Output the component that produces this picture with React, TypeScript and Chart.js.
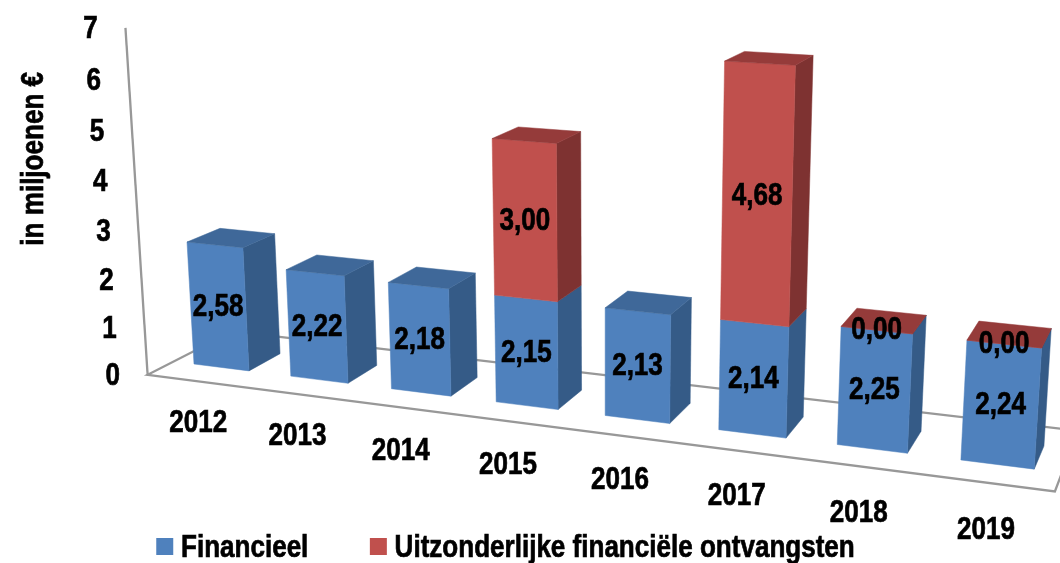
import React, { useEffect, useRef } from "react";
import { Chart, registerables } from "chart.js";

Chart.register(...registerables);

const years = ["2012", "2013", "2014", "2015", "2016", "2017", "2018", "2019"];
const financieel = [2.58, 2.22, 2.18, 2.15, 2.13, 2.14, 2.25, 2.24];
const uitzonderlijk = [null, null, null, 3.0, null, 4.68, 0.0, 0.0];
const yTicks = { min: 0, max: 7, step: 1 };

const BLUE = { front: "#4F81BD", top: "#3F6899", side: "#355B87" };
const RED = { front: "#C0504D", top: "#953B3A", side: "#7E3231" };
const AXIS = "#989898";
const FAMILY = '"Liberation Sans", Arial, sans-serif';
const FONT_SIZE = 31;
const FONT = `bold ${FONT_SIZE}px ${FAMILY}`;
const CONDENSE = 0.84;
const TEXT_DROP = 2;
const BAR_SHARE = 0.573;

// perspective camera: category position i, value v, depth z -> picture
function project(i: number, v: number, z: number): [number, number] {
  const k = Math.min(1, Math.max(0, -z / 0.76));
  const base = 1 - 0.019 * i + 0.0293 * z;
  const wx = base - 0.00647 * v;
  const wy = base + (-0.009 + 0.00253 * k) * v;
  const ex = -49.46 + 0.61 * k;
  const px = (194 + 91.3 * i - 3.92 * v + 38.9 * z) / wx;
  const py = (364 + 4.97 * i + ex * v - 6.65 * z) / wy;
  return [px, py];
}

function poly(ctx: CanvasRenderingContext2D, pts: [number, number][], fill: string) {
  ctx.beginPath();
  pts.forEach((p, n) => (n ? ctx.lineTo(p[0], p[1]) : ctx.moveTo(p[0], p[1])));
  ctx.closePath();
  ctx.fillStyle = fill;
  ctx.fill();
  ctx.strokeStyle = fill;
  ctx.lineWidth = 0.5;
  ctx.stroke();
}

const scene = {
  id: "scene3d",
  beforeInit(chart: any) {
    // every text of the chart is set in a condensed, heavier cut of the bold face
    const ctx = chart.ctx;
    const orig = ctx.fillText.bind(ctx);
    const origStroke = ctx.strokeText.bind(ctx);
    ctx.fillText = (t: string, x: number, y: number) => {
      ctx.save();
      ctx.translate(x, y + TEXT_DROP);
      ctx.scale(CONDENSE, 1);
      orig(t, 0, 0);
      ctx.strokeStyle = ctx.fillStyle;
      ctx.lineWidth = 0.7;
      origStroke(t, 0, 0);
      ctx.restore();
    };
  },
  afterLayout(chart: any) {
    const lg = chart.legend;
    lg.left = 119;
    lg.top = 486;
  },
  beforeDatasetsDraw(chart: any) {
    const { ctx, scales } = chart;
    const xs = scales.x;
    const ys = scales.y;
    const step = xs.getPixelForValue(1) - xs.getPixelForValue(0);
    const toI = (px: number) => (px - xs.getPixelForValue(0)) / step + BAR_SHARE / 2;
    const iL = toI(xs.left);
    const iR = toI(xs.right);
    const zF = -0.76;
    const zB = 1.85;

    // floor and axis line
    ctx.save();
    const a = project(iL, 0, zF);
    const b = project(iR, 0, zF);
    const c = project(iR, 0, zB);
    const d = project(iL, 0, zB);
    ctx.strokeStyle = AXIS;
    ctx.lineWidth = 2.3;
    ctx.beginPath();
    ctx.moveTo(d[0], d[1]);
    ctx.lineTo(a[0], a[1]);
    ctx.lineTo(b[0], b[1]);
    ctx.lineTo(c[0], c[1]);
    ctx.lineTo(d[0], d[1]);
    ctx.stroke();
    const top = project(iL, ys.max, zF);
    ctx.beginPath();
    ctx.moveTo(a[0], a[1]);
    ctx.lineTo(top[0], top[1]);
    ctx.stroke();

    // bars
    chart.data.labels.forEach((_: string, idx: number) => {
      let lastTop: { pts: [number, number][]; color: string } | null = null;
      chart.data.datasets.forEach((ds: any, dsi: number) => {
        if (ds.data[idx] == null) return;
        const el = chart.getDatasetMeta(dsi).data[idx];
        const i0 = toI(el.x - el.width / 2);
        const i1 = toI(el.x + el.width / 2);
        const v0 = ys.getValueForPixel(el.base);
        const v1 = ys.getValueForPixel(el.y);
        const pal = dsi === 0 ? BLUE : RED;
        poly(ctx, [project(i1, v0, 0), project(i1, v0, 1), project(i1, v1, 1), project(i1, v1, 0)], pal.side);
        poly(ctx, [project(i0, v0, 0), project(i1, v0, 0), project(i1, v1, 0), project(i0, v1, 0)], pal.front);
        lastTop = {
          pts: [project(i0, v1, 0), project(i1, v1, 0), project(i1, v1, 1), project(i0, v1, 1)],
          color: pal.top,
        };
      });
      if (lastTop) poly(ctx, (lastTop as any).pts, (lastTop as any).color);
    });

    // value labels
    ctx.font = FONT;
    ctx.fillStyle = "#000000";
    ctx.textAlign = "center";
    ctx.textBaseline = "middle";
    chart.data.datasets.forEach((ds: any, dsi: number) => {
      ds.data.forEach((val: number | null, idx: number) => {
        if (val == null) return;
        const el = chart.getDatasetMeta(dsi).data[idx];
        const v0 = ys.getValueForPixel(el.base);
        const v1 = ys.getValueForPixel(el.y);
        const p = project(toI(el.x), (v0 + v1) / 2, 0);
        ctx.fillText(val.toFixed(2).replace(".", ","), p[0], p[1] - 1.5);
      });
    });

    // category labels
    xs.getLabels().forEach((lab: string, idx: number) => {
      const p = project(toI(xs.getPixelForValue(idx)), -0.85, zF);
      ctx.fillText(lab, p[0], p[1]);
    });

    // value-axis labels
    ys.ticks.forEach((t: any) => {
      const p = project(iL, t.value, zF);
      ctx.fillText(String(t.value), p[0] - 35, p[1]);
    });
    ctx.restore();
    return undefined;
  },
  beforeDatasetDraw() {
    return false; // the faces are painted by the scene above
  },
};

export default function App() {
  const ref = useRef<HTMLCanvasElement>(null);
  useEffect(() => {
    const chart = new Chart(ref.current as HTMLCanvasElement, {
      type: "bar",
      data: {
        labels: years,
        datasets: [
          { label: "Financieel", data: financieel, backgroundColor: BLUE.front, borderWidth: 0 },
          { label: "Uitzonderlijke financiële ontvangsten", data: uitzonderlijk, backgroundColor: RED.front, borderWidth: 0 },
        ],
      } as any,
      options: {
        responsive: false,
        animation: false,
        layout: { padding: { left: 14, top: 72, right: 6, bottom: 0 } },
        datasets: { bar: { barPercentage: BAR_SHARE, categoryPercentage: 1 } },
        plugins: {
          tooltip: { enabled: false },
          legend: {
            position: "bottom",
            align: "start",
            labels: {
              usePointStyle: true,
              pointStyle: "rect",
              boxWidth: 1.5,
              boxHeight: 17,
              padding: 45,
              color: "#000000",
              font: { family: FAMILY, size: FONT_SIZE, weight: "bold" },
            },
          },
        },
        scales: {
          x: { display: false, stacked: true, offset: true },
          y: {
            stacked: true,
            min: yTicks.min,
            max: yTicks.max,
            ticks: { display: false, stepSize: yTicks.step },
            grid: { display: false },
            border: { display: false },
            title: {
              display: true,
              text: "in miljoenen €",
              align: "end",
              color: "#000000",
              padding: 0,
              font: { family: FAMILY, size: FONT_SIZE, weight: "bold" },
            },
          },
        },
      } as any,
      plugins: [scene as any],
    });
    return () => chart.destroy();
  }, []);
  return (
    <div style={{ position: "absolute", left: 0, top: 0, width: 1060, height: 563, background: "#ffffff" }}>
      <canvas ref={ref} width={1060} height={563} style={{ display: "block" }} />
    </div>
  );
}
